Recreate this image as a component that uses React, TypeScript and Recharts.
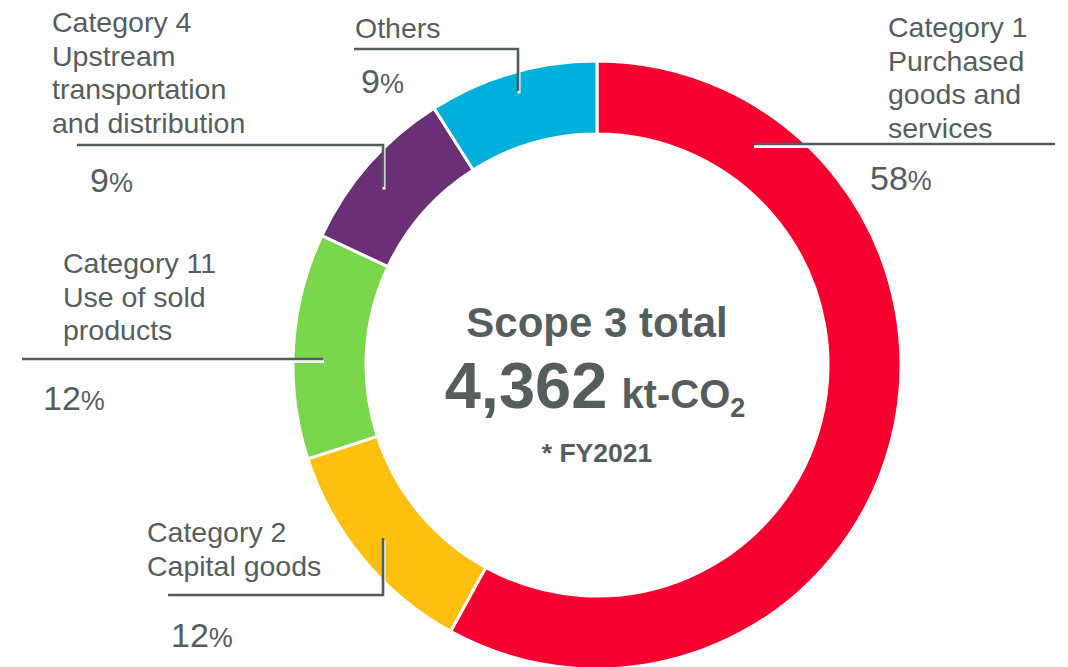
import React from 'react';
import { PieChart, Pie, Cell } from 'recharts';

const categoryNames = ['Category 1', 'Category 2', 'Category 11', 'Category 4', 'Others'];
const categoryDescriptions = [
  ['Purchased', 'goods and', 'services'],
  ['Capital goods'],
  ['Use of sold', 'products'],
  ['Upstream', 'transportation', 'and distribution'],
  [],
];
const shares = [58, 12, 12, 9, 9];
const colors = ['#F5002F', '#FDC010', '#7AD64A', '#6B2F76', '#00AFDA'];

const totalTitle = 'Scope 3 total';
const totalValue = '4,362';
const totalUnit = 'kt-CO';
const totalUnitSub = '2';
const totalNote = '* FY2021';

const data = categoryNames.map((name, i) => ({ name, value: shares[i] }));

const TEXT = '#555E5E';
const FONT = '"Liberation Sans", Arial, sans-serif';

// label layout (positions relative to the chart surface)
const layout = [
  { tx: 888, ty: 37, px: 870, py: 190, path: 'M753,144 H1055' },
  { tx: 147, ty: 542, px: 171, py: 647, path: 'M383,538 V595 H168' },
  { tx: 63, ty: 273, px: 43, py: 410, path: 'M323,359 H22' },
  { tx: 52, ty: 32, px: 90, py: 192, path: 'M383,187 V145 H77' },
  { tx: 355, ty: 38, px: 361, py: 93, path: 'M518,91 V49 H354' },
];
const LH = 33.5;

const renderLabel = (props: any) => {
  const i = props.index;
  const L = layout[i];
  const lines = [categoryNames[i], ...categoryDescriptions[i]];
  const cx = props.cx;
  const cy = props.cy;
  return (
    <g key={`lbl-${i}`}>
      <path d={L.path} transform="translate(1,2.5)" stroke="#ffffff" strokeWidth={3} fill="none" />
      <path d={L.path} stroke="#535C5C" strokeWidth={2.6} fill="none" />
      <text x={L.tx} y={L.ty} fill={TEXT} fontFamily={FONT} fontSize={28.5}>
        {lines.map((ln, k) => (
          <tspan key={k} x={L.tx} y={L.ty + k * LH}>{ln}</tspan>
        ))}
      </text>
      <text x={L.px} y={L.py} fill={TEXT} fontFamily={FONT}>
        <tspan fontSize={34}>{shares[i]}</tspan>
        <tspan fontSize={27}>%</tspan>
      </text>
      {i === 0 && (
        <g fontFamily={FONT} fill={TEXT} fontWeight="bold">
          <text x={cx} y={cy - 28} textAnchor="middle" fontSize={42}>{totalTitle}</text>
          <text x={cx - 2} y={cy + 43} textAnchor="middle">
            <tspan fontSize={65}>{totalValue}</tspan>
            <tspan fontSize={40} dx={14}>{totalUnit}</tspan>
            <tspan fontSize={27} dy={9}>{totalUnitSub}</tspan>
          </text>
          <text x={cx} y={cy + 97} textAnchor="middle" fontSize={26.5}>{totalNote}</text>
        </g>
      )}
    </g>
  );
};

export default function App() {
  return (
    <div style={{ position: 'absolute', left: 0, top: 0, width: 1068, height: 667, background: '#fff' }}>
      <PieChart width={1068} height={667} margin={{ top: 0, right: 0, bottom: 0, left: 0 }}>
        <Pie
          data={data}
          dataKey="value"
          nameKey="name"
          cx={597}
          cy={365}
          outerRadius={304}
          innerRadius={231}
          startAngle={90}
          endAngle={-270}
          stroke="#ffffff"
          strokeWidth={3}
          label={renderLabel}
          labelLine={false}
          isAnimationActive={false}
        >
          {data.map((d, i) => (
            <Cell key={d.name} fill={colors[i]} />
          ))}
        </Pie>
      </PieChart>
    </div>
  );
}
